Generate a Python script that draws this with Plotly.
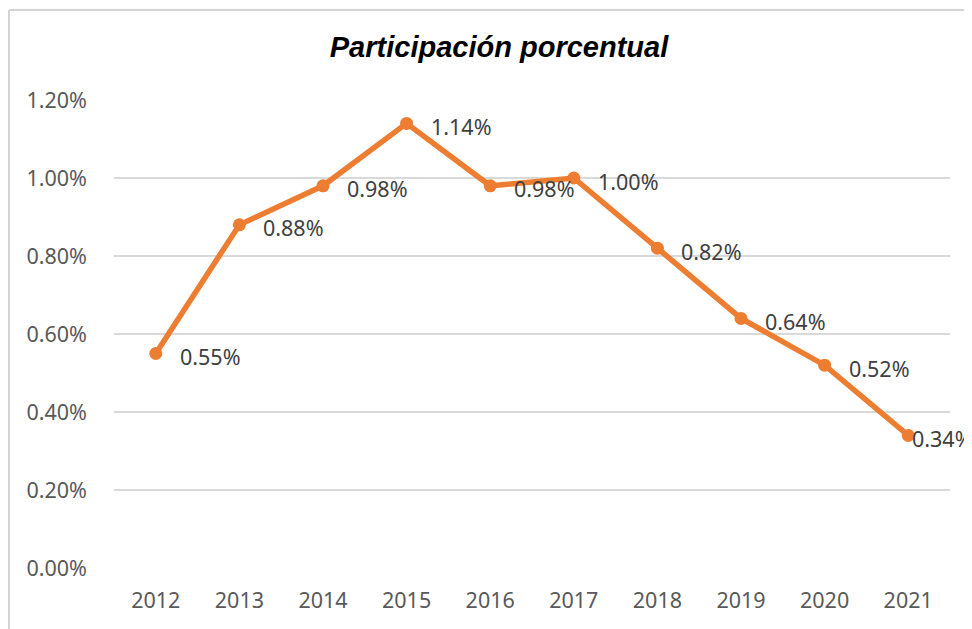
import plotly.graph_objects as go

years = ["2012", "2013", "2014", "2015", "2016", "2017", "2018", "2019", "2020", "2021"]
values = [0.0055, 0.0088, 0.0098, 0.0114, 0.0098, 0.0100, 0.0082, 0.0064, 0.0052, 0.0034]
y_ticks = [0, 0.002, 0.004, 0.006, 0.008, 0.010, 0.012]
title_text = "Participación porcentual"

ORANGE = "#ED7D31"
FONT = "Noto Sans"
FS = 21.5

# page has an 8px body margin; figure coordinates are page - 8
OFF = 8
W, H = 972 - OFF, 629 - OFF
L, R, T, B = 114 - OFF, 22, 100 - OFF, 61

fig = go.Figure()
fig.add_trace(go.Scatter(
    x=years, y=values, mode="lines+markers",
    line=dict(color=ORANGE, width=5.5),
    marker=dict(color=ORANGE, size=13),
    hoverinfo="skip", showlegend=False,
))

for i, v in enumerate(values):
    last = i == len(values) - 1
    fig.add_annotation(
        x=i, y=v, text=f"{v*100:.2f}%", showarrow=False,
        xanchor="left", yanchor="middle", xshift=2 if last else 22, yshift=-3,
        font=dict(family=FONT, size=FS, color="#404040"),
    )

pw = W - L - R
ph = H - T - B
def px(xp):
    return (xp - OFF - L) / pw
def py(yp):
    return (H - B - (yp - OFF)) / ph

fig.add_shape(type="line", xref="paper", yref="paper",
              x0=px(9), x1=px(980), y0=py(10), y1=py(10),
              line=dict(color="#D4D4D4", width=2))
fig.add_shape(type="line", xref="paper", yref="paper",
              x0=px(9), x1=px(9), y0=py(10), y1=py(640),
              line=dict(color="#D4D4D4", width=2))

fig.update_layout(
    width=W, height=H,
    margin=dict(l=L, r=R, t=T, b=B),
    paper_bgcolor="white", plot_bgcolor="white",
    title=dict(text=f"<b><i>{title_text}</i></b>", x=(499 - OFF) / W, xanchor="center",
               y=1 - (47 - OFF) / H, yanchor="middle",
               font=dict(family="Liberation Sans", size=29, color="black")),
    xaxis=dict(
        type="category", range=[-0.5, len(years) - 0.5],
        showgrid=False, zeroline=False, showline=False,
        ticks="", tickfont=dict(family=FONT, size=FS, color="#595959"),
        ticklabelstandoff=17,
    ),
    yaxis=dict(
        range=[0, 0.012], tickvals=y_ticks, tickformat=".2%",
        showgrid=True, gridcolor="#D9D9D9", gridwidth=1.5,
        zeroline=False, showline=False, ticks="",
        tickfont=dict(family=FONT, size=FS, color="#595959"),
        ticklabelstandoff=26,
    ),
)

fig.write_html("out.html")
